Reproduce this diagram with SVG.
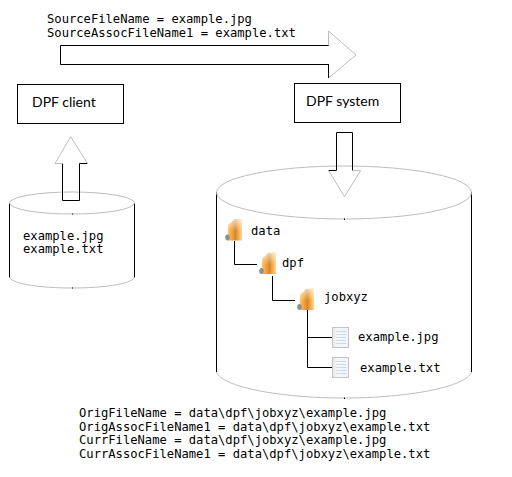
<svg xmlns="http://www.w3.org/2000/svg" width="512" height="477" viewBox="0 0 512 477">
<style>
.mono{font-family:"DejaVu Sans Mono","Liberation Mono",monospace;font-size:12.17px;fill:#000}
.label{font-family:"Lato","Open Sans","Liberation Sans",sans-serif;font-size:14px;fill:#000}
.blk{fill:none;stroke:#000;stroke-width:1}
.gry{fill:none;stroke:#bdbdbd;stroke-width:1}
.box{fill:#fff;stroke:#000;stroke-width:1}
.doc{fill:url(#docg);stroke:#c4c4c4;stroke-width:1}
.ln{stroke:#cfdbe8;stroke-width:1}
</style>
<defs>
<linearGradient id="fold" x1="0" y1="0" x2="1" y2="0">
<stop offset="0" stop-color="#fcc98a"/><stop offset=".3" stop-color="#fba233"/><stop offset=".55" stop-color="#c98a3e"/><stop offset=".72" stop-color="#fba233"/><stop offset="1" stop-color="#fdd6a4"/>
</linearGradient>
<linearGradient id="fade" x1="0" y1="0" x2="0" y2="1">
<stop offset="0" stop-color="#fff" stop-opacity=".65"/><stop offset=".55" stop-color="#fff" stop-opacity="0"/>
</linearGradient>
<linearGradient id="docg" x1="0" y1="0" x2="1" y2="0">
<stop offset="0" stop-color="#e6e6e6"/><stop offset=".3" stop-color="#f4f7fb"/><stop offset="1" stop-color="#eef3f9"/>
</linearGradient>
<filter id="soft" x="-20%" y="-20%" width="140%" height="140%"><feGaussianBlur stdDeviation=".7"/></filter>
<g id="folder" filter="url(#soft)">
<path id="folder-body" d="M-6.500 10.500L-6-4Q-5-7-3-7L0-10.500L8-11L8 10.500Z" fill="url(#fold)"/>
<path d="M-6.500 10.500L-6-4Q-5-7-3-7L0-10.500L8-11L8 10.500Z" fill="url(#fade)"/>
<ellipse cx="-6.500" cy="7.500" rx="2.300" ry="3" fill="#8f8f8f"/>
</g>
<g id="docicon">
<rect x="0.500" y="0.500" width="16" height="20" class="doc"/>
<path d="M4 4.500H14M4 7.500H14M4 10.500H14M4 13.500H14M4 16.500H14" class="ln"/>
</g>
</defs>
<rect width="512" height="477" fill="#fff"/>

<g id="top-label">
<text class="mono" x="47" y="23">SourceFileName = example.jpg</text>
<text class="mono" x="47" y="37">SourceAssocFileName1 = example.txt</text>
</g>

<g id="client-cylinder">
<path d="M9.500 203V277.500" class="blk"/><path d="M134.500 203V277.500" class="blk"/>
<ellipse cx="72" cy="203" rx="62.500" ry="11" class="gry"/>
<path d="M9.500 277.500C13 284 40 288 72 288S131 284 134.500 277.500" class="gry"/>
<path d="M72.500 213.500v1M72.500 287.500v1" class="blk"/>
<text class="mono" x="23" y="240">example.jpg</text>
<text class="mono" x="23" y="253">example.txt</text>
</g>

<g id="system-cylinder">
<path d="M216.500 192V372" class="blk"/><path d="M471.500 192V372" class="blk"/>
<ellipse cx="344" cy="192.500" rx="127.500" ry="26.500" class="gry"/>
<path d="M216.500 372C222 387 280 398 344 398S466 387 471.500 372" class="gry"/>
<path d="M344.500 218.500v1.500M344.500 397.500v1.500" class="blk"/>
</g>

<g id="connectors">
<path d="M329 45.500H60.500V64.500H329M328.500 64.500V78" class="blk"/>
<path d="M328.500 45.500V31L356 55L328.500 78" class="gry"/>
<path d="M328.500 170.500H336.500V132.500H352.500V170.500" class="blk"/>
<path d="M328.500 170.500L344.500 196.700L360.700 170.500H352.500" class="gry"/>
<path d="M62.500 163.500V200.500H79.500V163.500H87.500" class="blk"/>
<path d="M87.500 163.500L70.700 136.700L55 163.500H62.500" class="gry"/>
<path d="M234.500 241V264.500H257" class="blk"/>
<path d="M272.500 276V300.500H295" class="blk"/>
<path d="M307.500 310V367.500H332M307.500 337.500H332" class="blk"/>
</g>

<g id="dpf-client">
<rect x="17.500" y="84.500" width="106" height="39" class="box"/>
<text class="label" x="32" y="107">DPF client</text>
</g>
<g id="dpf-system">
<rect x="294.500" y="83.500" width="106" height="39" class="box"/>
<text class="label" x="306" y="106">DPF system</text>
</g>

<g id="folder-data">
<use href="#folder" x="234" y="230"/>
<text class="mono" x="251" y="235">data</text>
</g>
<g id="folder-dpf">
<use href="#folder" x="268" y="263.500"/>
<text class="mono" x="282" y="267">dpf</text>
</g>
<g id="folder-jobxyz">
<use href="#folder" x="306" y="299.500"/>
<text class="mono" x="324" y="301">jobxyz</text>
</g>
<g id="file-jpg">
<use href="#docicon" x="332" y="327"/>
<text class="mono" x="358" y="341">example.jpg</text>
</g>
<g id="file-txt">
<use href="#docicon" x="332" y="357"/>
<text class="mono" x="360" y="372">example.txt</text>
</g>

<g id="bottom-label">
<text class="mono" x="79" y="417">OrigFileName = data\dpf\jobxyz\example.jpg</text>
<text class="mono" x="79" y="431">OrigAssocFileName1 = data\dpf\jobxyz\example.txt</text>
<text class="mono" x="79" y="444">CurrFileName = data\dpf\jobxyz\example.jpg</text>
<text class="mono" x="79" y="458">CurrAssocFileName1 = data\dpf\jobxyz\example.txt</text>
</g>
</svg>
